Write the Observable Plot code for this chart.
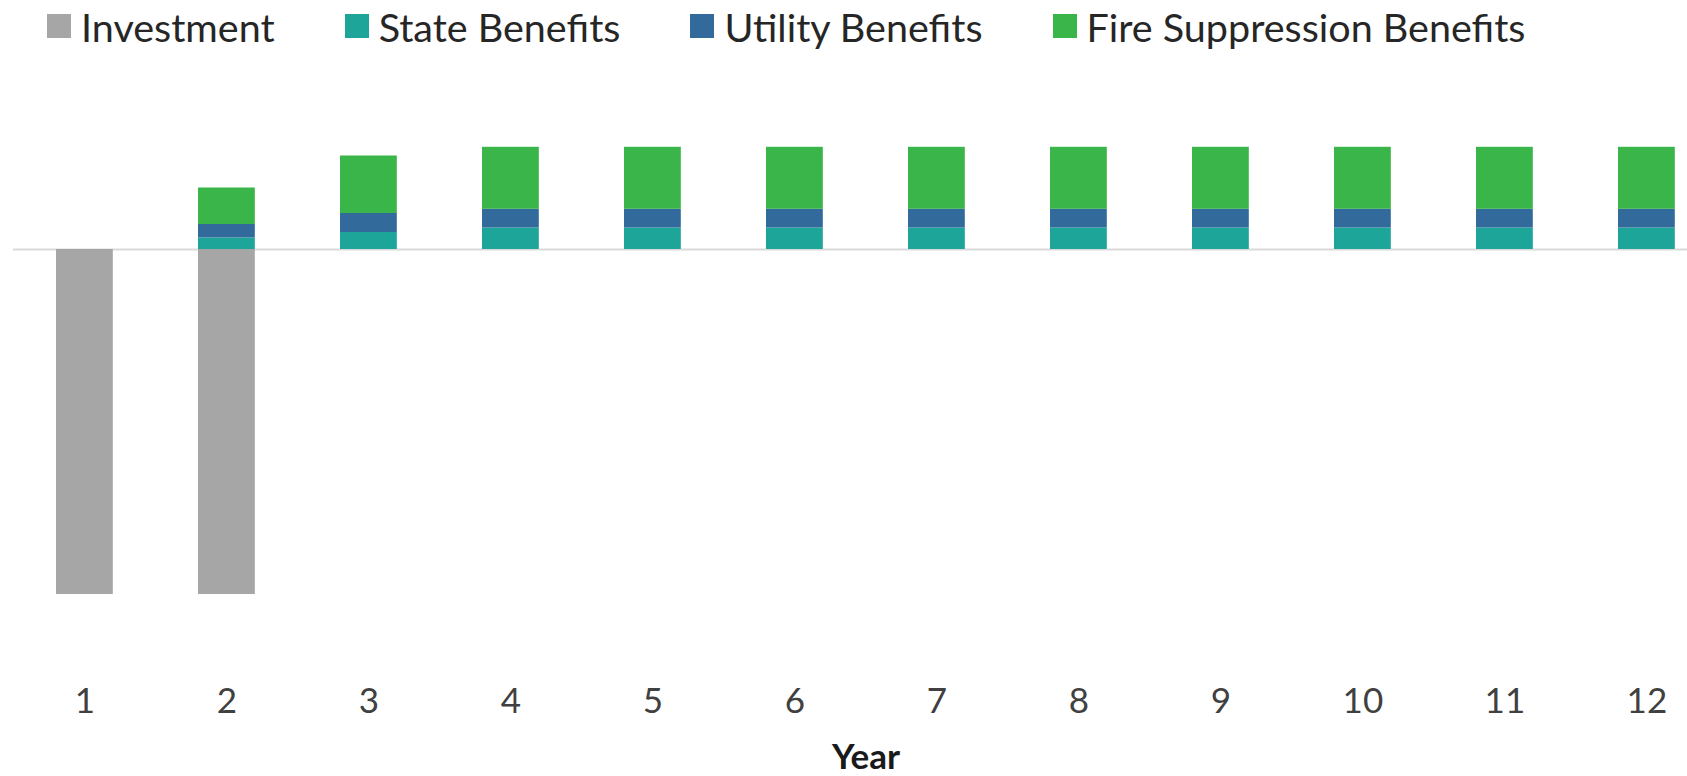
<!DOCTYPE html>
<html>
<head>
<meta charset="utf-8">
<script src="https://cdn.jsdelivr.net/npm/d3@7"></script>
<script src="https://cdn.jsdelivr.net/npm/@observablehq/plot@0.6"></script>
<style>
  html, body { margin: 0; padding: 0; background: #fff; overflow: hidden; }
  #legend { height: 56px; padding-left: 47px; display: flex; align-items: center; }
  #legend > div { position: relative; top: 8px; }
  #legend .lg-swatches-wrap { min-height: 0; flex-wrap: nowrap; }
  #legend .lg-swatch { margin-right: 70px !important; }
  #legend .lg-swatch > svg { margin-right: 10px !important; }
  #chart svg { display: block; }
</style>
</head>
<body>
<div id="legend"></div>
<div id="chart"></div>
<script>
const years = [1, 2, 3, 4, 5, 6, 7, 8, 9, 10, 11, 12];
const seriesNames = ["Investment", "State Benefits", "Utility Benefits", "Fire Suppression Benefits"];
const seriesColors = ["#a6a6a6", "#1da59a", "#336a9c", "#3ab54a"];
const investment      = [-34.5, -34.5, 0, 0, 0, 0, 0, 0, 0, 0, 0, 0];
const stateBenefits   = [0, 1.15, 1.7, 2.15, 2.15, 2.15, 2.15, 2.15, 2.15, 2.15, 2.15, 2.15];
const utilityBenefits = [0, 1.35, 1.9, 1.87, 1.87, 1.87, 1.87, 1.87, 1.87, 1.87, 1.87, 1.87];
const fireBenefits    = [0, 3.65, 5.75, 6.2, 6.2, 6.2, 6.2, 6.2, 6.2, 6.2, 6.2, 6.2];
const xLabel = "Year";

const seriesValues = [investment, stateBenefits, utilityBenefits, fireBenefits];
const rows = [];
years.forEach((yr, i) => {
  seriesNames.forEach((s, j) => {
    const v = seriesValues[j][i];
    if (v !== 0) rows.push({year: yr, series: s, value: v});
  });
});

const font = "Lato, 'Open Sans', sans-serif";

const legend = Plot.legend({
  color: {domain: seriesNames, range: seriesColors},
  legend: "swatches",
  swatchSize: 24,
  className: "lg",
  style: {fontFamily: font, fontSize: "39.5px", color: "#262626"}
});
document.getElementById("legend").appendChild(legend);

const chart = Plot.plot({
  width: 1687,
  height: 720,
  marginTop: 0,
  marginBottom: 120,
  marginLeft: 13,
  marginRight: 0,
  style: {fontFamily: font, fontSize: "35px", color: "#404040", background: "#fff"},
  x: {type: "band", domain: years, paddingInner: 0.6, paddingOuter: 0.1944, align: 0.779, round: false},
  y: {domain: [-40.7, 19.3], axis: null},
  color: {domain: seriesNames, range: seriesColors},
  marks: [
    Plot.ruleY([0], {stroke: "#d9d9d9", strokeWidth: 2}),
    Plot.barY(rows, {x: "year", y: "value", fill: "series", order: seriesNames}),
    Plot.axisX({tickSize: 0, tickPadding: 32, fontSize: 35, label: null, fill: "#404040"}),
    Plot.text([xLabel], {frameAnchor: "bottom", dy: 101, dx: 15.5, lineAnchor: "middle", fontWeight: "bold", fontSize: 35, fill: "#1a1a1a"})
  ]
});
document.getElementById("chart").appendChild(chart);
</script>
</body>
</html>
